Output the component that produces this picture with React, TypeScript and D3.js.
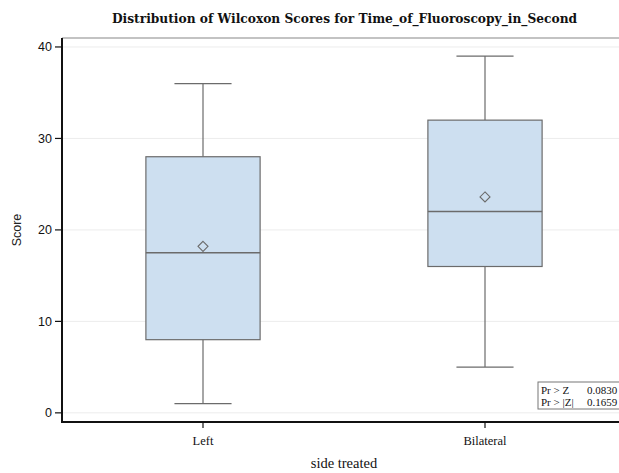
import React from 'react'
import * as d3 from 'd3'

// Wilcoxon score summaries per group
const groups = ['Left', 'Bilateral']
const whiskerLow = [1, 5]
const q1 = [8, 16]
const median = [17.5, 22]
const q3 = [28, 32]
const whiskerHigh = [36, 39]
const means = [18.2, 23.6]
const yTicks = [0, 10, 20, 30, 40]
const insetRows = [
  ['Pr > Z', '0.0830'],
  ['Pr > |Z|', '0.1659'],
]

const W = 619
const H = 473
const margin = { top: 38, left: 62, right: -7, bottom: 51 }
const SERIF = 'Liberation Serif, DejaVu Serif, serif'
const TITLE_FONT = 'DejaVu Serif Condensed, DejaVu Serif, serif'
const SANS = 'Liberation Sans Narrow, Liberation Sans, Arial, sans-serif'

export default function App() {
  const x0 = margin.left
  const x1 = W - margin.right
  const yTop = margin.top
  const yBot = H - margin.bottom

  const x = d3.scaleBand<string>().domain(groups).range([x0, x1]).padding(0)
  const y = d3.scaleLinear().domain([-1, 40.98]).range([yBot, yTop])
  const boxW = x.bandwidth() * 0.405
  const capW = boxW * 0.5

  return (
    <svg width={W} height={H} style={{ position: 'absolute', left: 0, top: 0, background: '#fff' }}>
      <text x={(x0 + x1) / 2 + 0.5} y={23} textAnchor="middle" fontFamily={TITLE_FONT} fontWeight="bold"
        fontSize={13.6} fill="#111">
        Distribution of Wilcoxon Scores for Time_of_Fluoroscopy_in_Second
      </text>

      {/* grid */}
      {yTicks.map((t) => (
        <line key={'g' + t} x1={x0} x2={x1} y1={y(t)} y2={y(t)} stroke="#ececec" strokeWidth={1} />
      ))}

      {/* frame top */}
      <line x1={x0} x2={x1} y1={yTop} y2={yTop} stroke="#888" strokeWidth={1.2} />

      {/* boxes */}
      {groups.map((g, i) => {
        const cx = (x(g) ?? 0) + x.bandwidth() / 2
        const stroke = '#6b6b6b'
        return (
          <g key={g}>
            <line x1={cx} x2={cx} y1={y(whiskerHigh[i])} y2={y(q3[i])} stroke={stroke} strokeWidth={1.2} />
            <line x1={cx} x2={cx} y1={y(q1[i])} y2={y(whiskerLow[i])} stroke={stroke} strokeWidth={1.2} />
            <line x1={cx - capW / 2} x2={cx + capW / 2} y1={y(whiskerHigh[i])} y2={y(whiskerHigh[i])} stroke={stroke} strokeWidth={1.2} />
            <line x1={cx - capW / 2} x2={cx + capW / 2} y1={y(whiskerLow[i])} y2={y(whiskerLow[i])} stroke={stroke} strokeWidth={1.2} />
            <rect x={cx - boxW / 2} y={y(q3[i])} width={boxW} height={y(q1[i]) - y(q3[i])}
              fill="#cddff0" stroke={stroke} strokeWidth={1.2} />
            <line x1={cx - boxW / 2} x2={cx + boxW / 2} y1={y(median[i])} y2={y(median[i])} stroke={stroke} strokeWidth={1.5} />
            <path d={`M${cx},${y(means[i]) - 5} L${cx + 5},${y(means[i])} L${cx},${y(means[i]) + 5} L${cx - 5},${y(means[i])} Z`}
              fill="none" stroke={stroke} strokeWidth={1.1} />
          </g>
        )
      })}

      {/* inset */}
      <g>
        <rect x={538} y={382} width={90} height={27} fill="#fff" stroke="#777" strokeWidth={1} />
        {insetRows.map((r, i) => (
          <g key={r[0]} fontFamily={SERIF} fontSize={11} fill="#111">
            <text x={541} y={393.5 + i * 12}>{r[0]}</text>
            <text x={587} y={393.5 + i * 12}>{r[1]}</text>
          </g>
        ))}
      </g>

      {/* y axis */}
      <line x1={x0} x2={x0} y1={yTop} y2={yBot} stroke="#111" strokeWidth={2} />
      {yTicks.map((t) => (
        <g key={'t' + t}>
          <line x1={x0 - 7} x2={x0} y1={y(t)} y2={y(t)} stroke="#111" strokeWidth={1.2} />
          <text x={x0 - 10} y={y(t)} dy="0.35em" textAnchor="end" fontFamily={SANS} fontSize={12.5} fill="#111">
            {t}
          </text>
        </g>
      ))}
      <text transform={`translate(21,${(yTop + yBot) / 2}) rotate(-90)`} textAnchor="middle"
        fontFamily={SANS} fontSize={12.5} fill="#222">
        Score
      </text>

      {/* x axis */}
      <line x1={x0 - 1} x2={x1} y1={yBot} y2={yBot} stroke="#111" strokeWidth={2} />
      {groups.map((g) => {
        const cx = (x(g) ?? 0) + x.bandwidth() / 2
        return (
          <g key={'x' + g}>
            <line x1={cx} x2={cx} y1={yBot} y2={yBot + 6} stroke="#111" strokeWidth={1.2} />
            <text x={cx} y={yBot + 23} textAnchor="middle" fontFamily={SERIF} fontSize={12.5} fill="#111">
              {g}
            </text>
          </g>
        )
      })}
      <text x={(x0 + x1) / 2} y={H - 5} textAnchor="middle" fontFamily={SERIF} fontSize={14.5} fill="#111">
        side treated
      </text>
    </svg>
  )
}
